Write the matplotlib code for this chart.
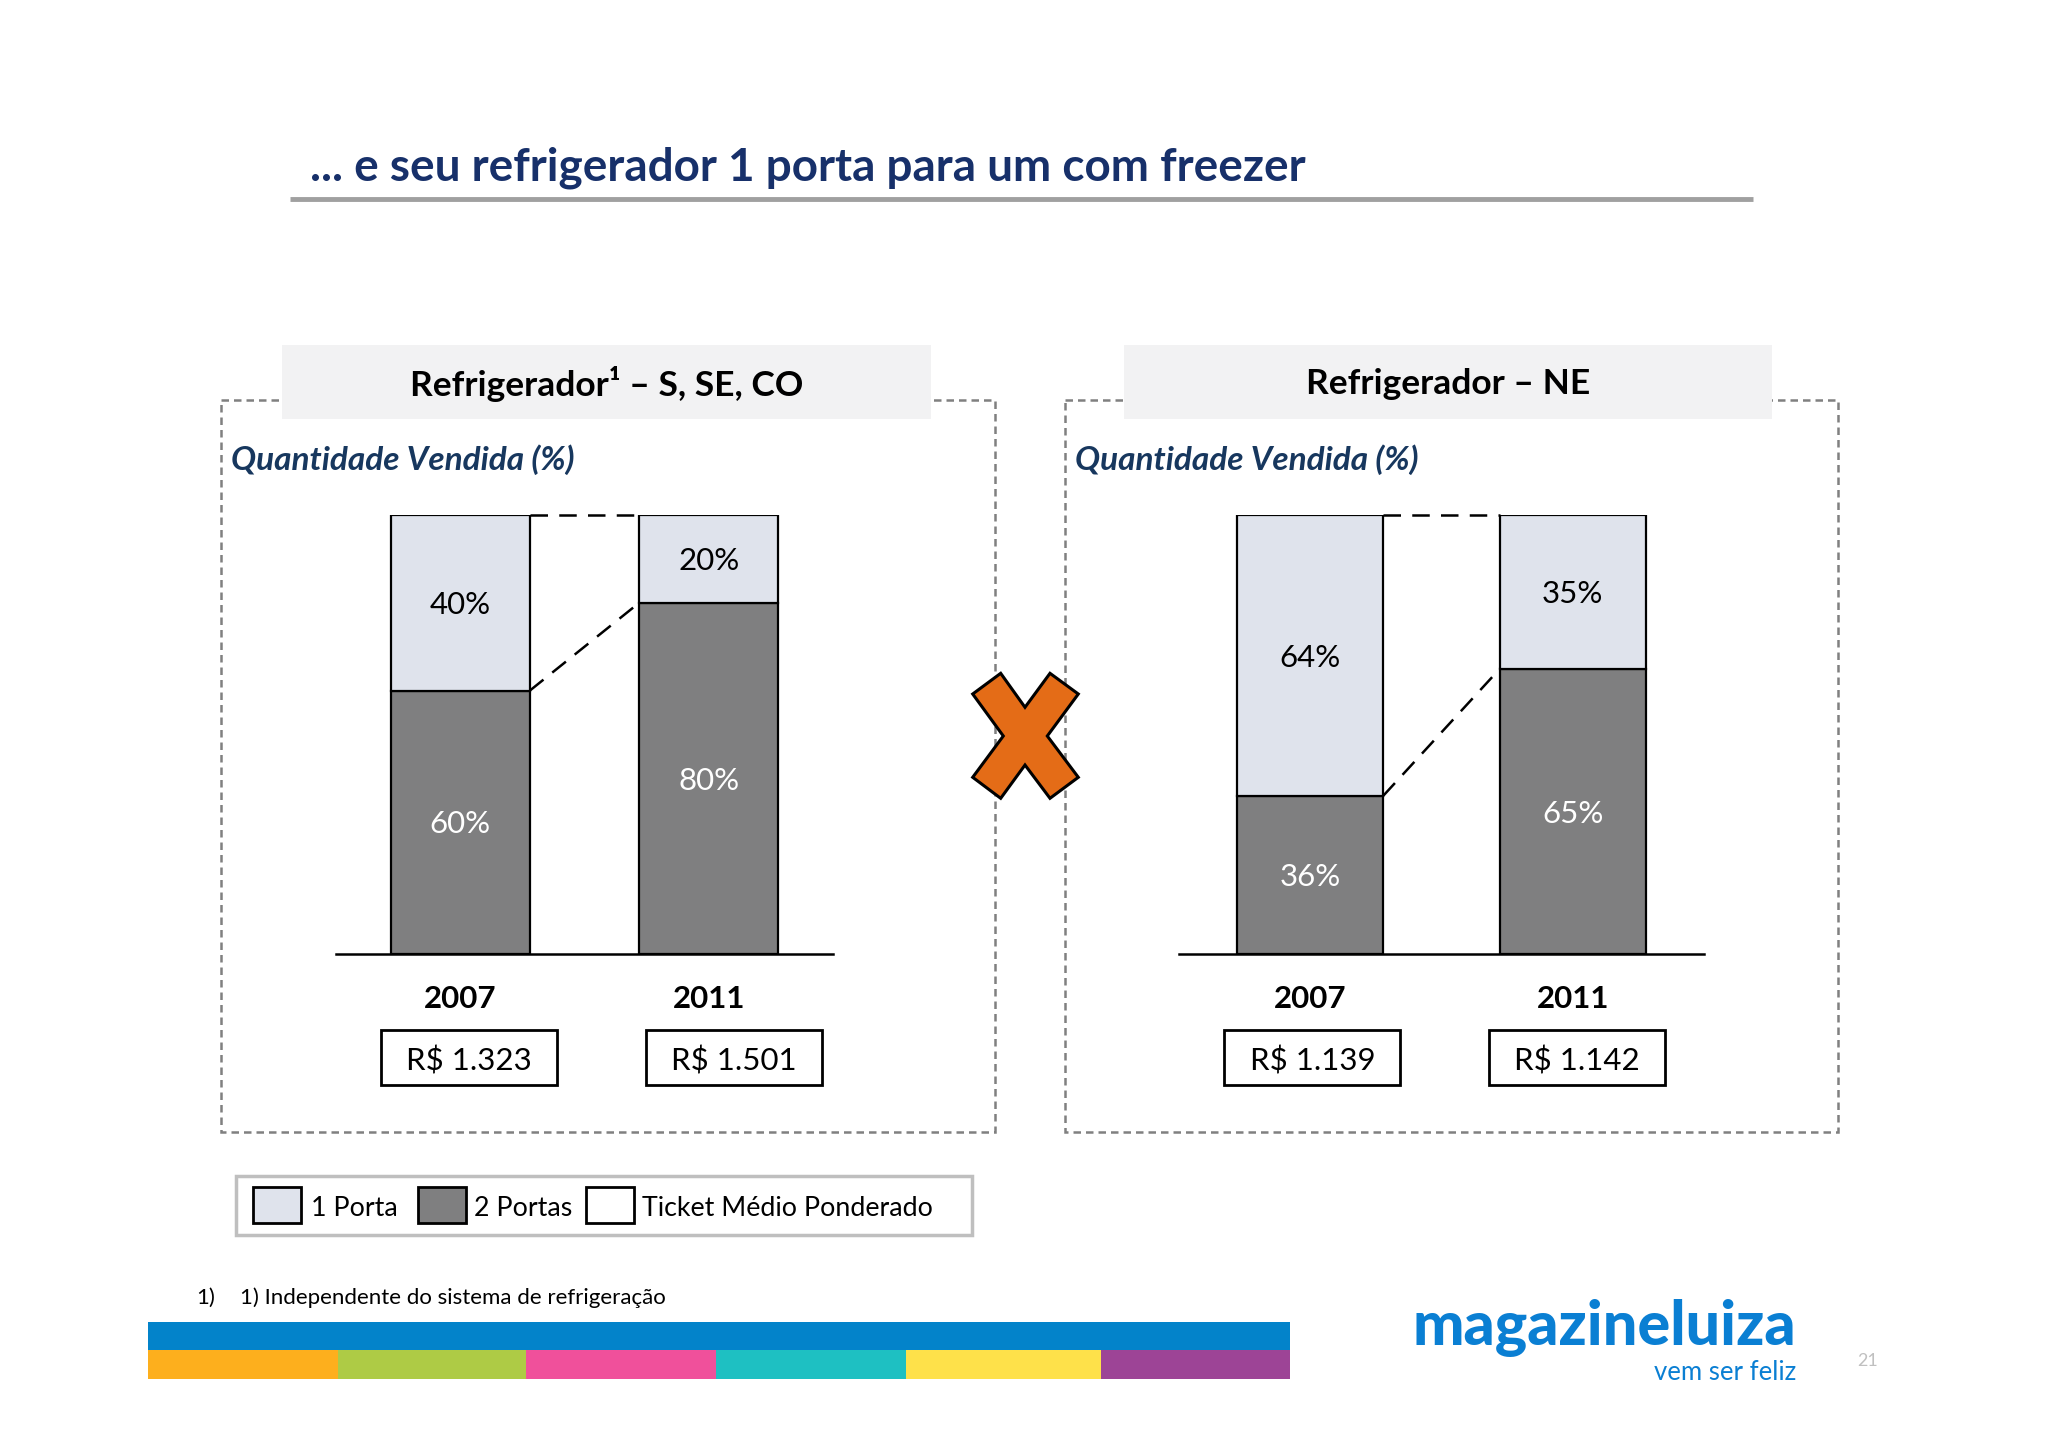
import matplotlib
matplotlib.use("Agg")
import matplotlib.pyplot as plt
from matplotlib.patches import Rectangle, Polygon

plt.rcParams['font.family'] = ['Lato', 'DejaVu Sans']

# ---------------- data ----------------
years = ["2007", "2011"]
panel_titles = ["Refrigerador¹ – S, SE, CO", "Refrigerador – NE"]
dois_portas = [[60, 80], [36, 65]]      # % 2 Portas
uma_porta = [[40, 20], [64, 35]]        # % 1 Porta
tickets = [["R$ 1.323", "R$ 1.501"], ["R$ 1.139", "R$ 1.142"]]
legend_labels = ["1 Porta", "2 Portas", "Ticket Médio Ponderado"]
main_title = "... e seu refrigerador 1 porta para um com freezer"
subtitle = "Quantidade Vendida (%)"
footnote_num = "1)"
footnote_txt = "1) Independente do sistema de refrigeração"

# ---------------- style ----------------
W, H = 2048, 1447
C_LIGHT = "#DFE3EC"
C_DARK = "#7F7F80"
NAVY = "#17306A"
SUBNAVY = "#17375E"

fig = plt.figure(figsize=(W / 100, H / 100), dpi=100)
fig.patch.set_facecolor("white")

ov = fig.add_axes([0, 0, 1, 1])
ov.set_xlim(0, W)
ov.set_ylim(H, 0)
ov.axis("off")

# main title
ov.text(310, 168, main_title, fontsize=33, fontweight="bold", color=NAVY,
        ha="left", va="center")
ov.plot([290, 1753], [199, 199], color="#A0A0A0", lw=3.5, solid_capstyle="butt")

# panel layouts (pixels)
panels = [
    dict(box=(221, 400, 995, 1132), tbox=(282, 345, 931, 419),
         ax=(336, 515, 833, 954), width=0.56, tk_off=[0.035, 0.10],
         sub_x=231),
    dict(box=(1065, 400, 1838, 1132), tbox=(1124, 345, 1772, 419),
         ax=(1179, 515, 1704, 954), width=0.555, tk_off=[0.008, 0.015],
         sub_x=1075),
]

for p_i, p in enumerate(panels):
    x0, y0, x1, y1 = p["box"]
    ov.add_patch(Rectangle((x0, y0), x1 - x0, y1 - y0, fill=False,
                           edgecolor="#808080", lw=1.8, ls=(0, (3, 2)), zorder=1))
    tx0, ty0, tx1, ty1 = p["tbox"]
    ov.add_patch(Rectangle((tx0, ty0), tx1 - tx0, ty1 - ty0, facecolor="#F2F2F3",
                           edgecolor="none", zorder=2))
    ov.text((tx0 + tx1) / 2, (ty0 + ty1) / 2 + 2, panel_titles[p_i], fontsize=25.5,
            fontweight="bold", color="black", ha="center", va="center", zorder=3)
    ov.text(p["sub_x"], 460, subtitle, fontsize=24, fontweight="bold",
            fontstyle="italic", color=SUBNAVY, ha="left", va="center", zorder=3)

    ax_l, ax_t, ax_r, ax_b = p["ax"]
    ax = fig.add_axes([ax_l / W, (H - ax_b) / H, (ax_r - ax_l) / W, (ax_b - ax_t) / H])
    ax.patch.set_alpha(0)
    ax.set_xlim(-0.5, 1.5)
    ax.set_ylim(0, 100)
    for s in ["top", "left", "right"]:
        ax.spines[s].set_visible(False)
    ax.spines["bottom"].set_linewidth(1.8)
    ax.set_xticks([])
    ax.set_yticks([])

    xs = list(range(len(years)))
    wd = p["width"]
    d = dois_portas[p_i]
    u = uma_porta[p_i]
    ax.bar(xs, d, width=wd, color=C_DARK, edgecolor="black", lw=1.6, zorder=3)
    ax.bar(xs, u, width=wd, bottom=d, color=C_LIGHT, edgecolor="black", lw=1.6, zorder=3)

    # connector dashed lines
    ax.plot([xs[0] + wd / 2, xs[1] - wd / 2], [d[0] + u[0], d[1] + u[1]],
            color="black", lw=1.8, ls=(0, (7, 4.5)), zorder=2, clip_on=False)
    ax.plot([xs[0] + wd / 2, xs[1] - wd / 2], [d[0], d[1]],
            color="black", lw=1.8, ls=(0, (7, 4.5)), zorder=2, clip_on=False)

    for i in xs:
        ax.text(i, d[i] / 2 - 0.5, f"{d[i]}%", ha="center", va="center", fontsize=22.5,
                color="white", zorder=4)
        ax.text(i, d[i] + u[i] / 2 - 0.5, f"{u[i]}%", ha="center", va="center",
                fontsize=22.5, color="black", zorder=4)
        ax.text(i, -10.3, years[i], ha="center", va="center", fontsize=22.5,
                fontweight="bold", color="black", clip_on=False)
        # ticket boxes
        px_per_unit = (ax_r - ax_l) / 2.0
        bw = 176 / px_per_unit
        bh = 55 / (ax_b - ax_t) * 100
        cx = i + p["tk_off"][i]
        cy = -(103.5 / (ax_b - ax_t)) * 100
        ax.add_patch(Rectangle((cx - bw / 2, cy - bh / 2), bw, bh, fill=False,
                               edgecolor="black", lw=2.0, clip_on=False))
        ax.text(cx, cy - 0.7, tickets[p_i][i], ha="center", va="center", fontsize=22.5,
                color="black", clip_on=False)

# orange X
xpts = [(1000.7, 673.3), (972.7, 694), (1003.3, 736), (972.7, 777.3),
        (1000.7, 798.3), (1025, 765), (1050, 798.3), (1078.3, 777.3),
        (1047.3, 736), (1078.3, 694), (1050, 673.3), (1025, 707.3)]
ov.add_patch(Polygon(xpts, closed=True, facecolor="#E46C17", edgecolor="black",
                     lw=2.2, zorder=5))

# legend
ov.add_patch(Rectangle((236, 1176), 736, 59, facecolor="white", edgecolor="#BFBFBF",
                       lw=2.5, zorder=1))
leg_patch_x = [253, 418, 586]
leg_text_x = [311, 474, 642]
leg_cols = [C_LIGHT, C_DARK, "white"]
for px, tx, c, lab in zip(leg_patch_x, leg_text_x, leg_cols, legend_labels):
    ov.add_patch(Rectangle((px, 1187), 48, 36, facecolor=c, edgecolor="black",
                           lw=2.0, zorder=2))
    ov.text(tx, 1208, lab, fontsize=19.3, color="black", ha="left", va="center", zorder=3)

# footnote
ov.text(196, 1298, footnote_num, fontsize=16, color="black", ha="left", va="center")
ov.text(240, 1298, footnote_txt, fontsize=16, color="black", ha="left", va="center")

# colour strip
ov.add_patch(Rectangle((148, 1322), 1142, 28, facecolor="#0383CA", edgecolor="none"))
seg_b = [148, 338, 526, 716, 906, 1101, 1290]
seg_c = ["#FDAF1D", "#AECB45", "#F0509B", "#1EC0C2", "#FEE14A", "#9D4496"]
for a, b, c in zip(seg_b[:-1], seg_b[1:], seg_c):
    ov.add_patch(Rectangle((a, 1350), b - a, 29, facecolor=c, edgecolor="none"))

# logo
ov.text(1796, 1328, "magazineluiza", fontsize=44, fontweight=900, color="#0A7FD3",
        ha="right", va="center")
ov.text(1796, 1372, "vem ser feliz", fontsize=18.5, color="#0A7FD3", ha="right",
        va="center")
ov.text(1868, 1361, "21", fontsize=13, color="#C0C0C0", ha="center", va="center")

fig.savefig("out.png", dpi=100, facecolor="white")
